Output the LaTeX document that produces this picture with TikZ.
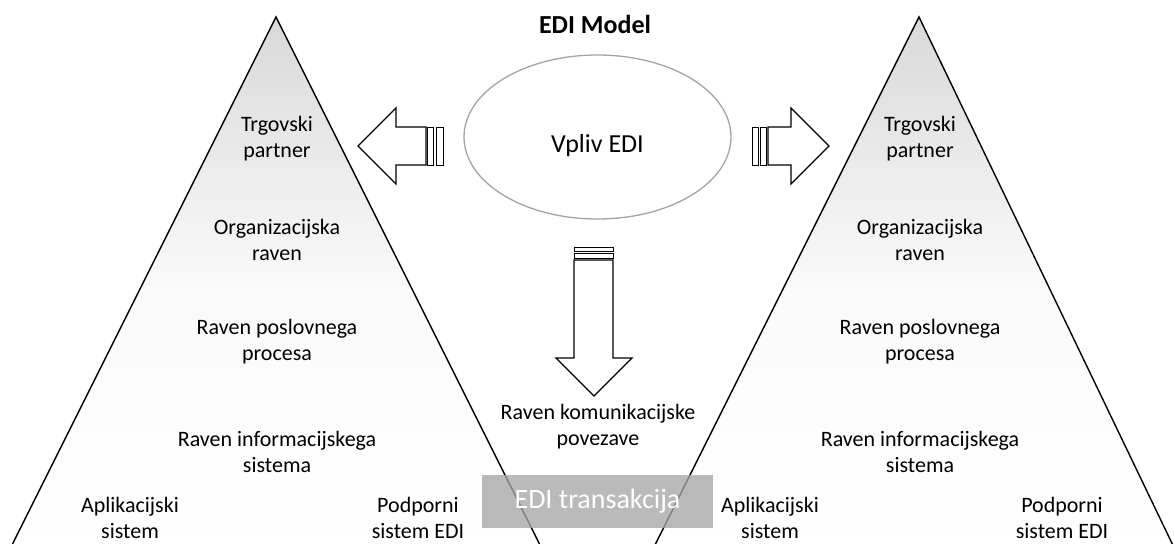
\documentclass[tikz,border=0pt]{standalone}
\usepackage{fontspec}
\setmainfont{Carlito}
\usepackage{tikz}
\usetikzlibrary{shapes.geometric}
\usepackage{xcolor}
\definecolor{edigray}{HTML}{A6A6A6}
\definecolor{rimgray}{HTML}{A3A3A3}
\tikzset{
  levelnode/.style={
    align=center,
    inner sep=0pt,
    font=\fontsize{22}{26}\selectfont
  },
  pyramid/.style={
    draw=black,
    line width=1.4pt,
    top color=gray!30,
    bottom color=white,
    middle color=gray!4
  },
  blockarrow/.style={
    draw=black,
    line width=1.3pt,
    fill=white,
    line join=miter
  },
  stripe/.style={
    draw=black,
    line width=1pt,
    fill=white
  }
}

\begin{document}
\begin{tikzpicture}[x=1pt,y=-1pt]
\useasboundingbox (0,0) rectangle (1174,543);
\begin{scope}
\clip (0,0) rectangle (1174,543);
\draw[pyramid] (276,17) -- (4.5,560) -- (547.5,560) -- cycle;
\draw[pyramid] (919,17) -- (647.5,560) -- (1180,560) -- cycle;
\end{scope}

\node[draw=rimgray, line width=1.3pt, ellipse, inner sep=0pt,
      minimum width=267pt, minimum height=164pt] (impact) at (597.5,137) {};
\node[font=\fontsize{26}{30}\selectfont\bfseries, inner sep=0pt] (title) at (595,24) {EDI Model};
\node[font=\fontsize{26}{30}\selectfont, inner sep=0pt] (impacttext) at (597.5,146) {Vpliv EDI};

\draw[blockarrow] (426,127) -- (396,127) -- (396,108) -- (358,146) -- (396,184) -- (396,165) -- (426,165) -- cycle;
\draw[stripe] (427.5,127) rectangle (433,165);
\draw[stripe] (436,127) rectangle (443,165);

\draw[blockarrow] (768,127) -- (791,127) -- (791,108) -- (829,146) -- (791,184) -- (791,165) -- (768,165) -- cycle;
\draw[stripe] (752,127) rectangle (758,165);
\draw[stripe] (760.5,127) rectangle (766.5,165);

\draw[blockarrow] (574,260) -- (574,358) -- (556,358) -- (594,396) -- (632,358) -- (613,358) -- (613,260) -- cycle;
\draw[stripe] (574,247) rectangle (613,251.5);
\draw[stripe] (574,253.5) rectangle (613,258.5);

\node[levelnode] (ltrade) at (277,139) {Trgovski\\partner};
\node[levelnode] (lorg) at (277,240) {Organizacijska\\raven};
\node[levelnode] (lproc) at (277,342) {Raven poslovnega\\procesa};
\node[levelnode] (linfo) at (277,452) {Raven informacijskega\\sistema};
\node[levelnode] (lapp) at (130,518) {Aplikacijski\\sistem};
\node[levelnode] (lsupp) at (418,518) {Podporni\\sistem EDI};

\node[levelnode] (rtrade) at (920,139) {Trgovski\\partner};
\node[levelnode] (rorg) at (920,240) {Organizacijska\\raven};
\node[levelnode] (rproc) at (920,342) {Raven poslovnega\\procesa};
\node[levelnode] (rinfo) at (920,452) {Raven informacijskega\\sistema};
\node[levelnode] (rapp) at (770,518) {Aplikacijski\\sistem};
\node[levelnode] (rsupp) at (1062,518) {Podporni\\sistem EDI};

\node[levelnode] (comm) at (598,427) {Raven komunikacijske\\povezave};

\node[fill=edigray, fill opacity=0.78, text opacity=1, text=white,
      minimum width=231pt, minimum height=53pt, inner sep=0pt,
      font=\fontsize{28}{32}\selectfont] (trans) at (597.5,501.5) {EDI transakcija};
\end{tikzpicture}
\end{document}
